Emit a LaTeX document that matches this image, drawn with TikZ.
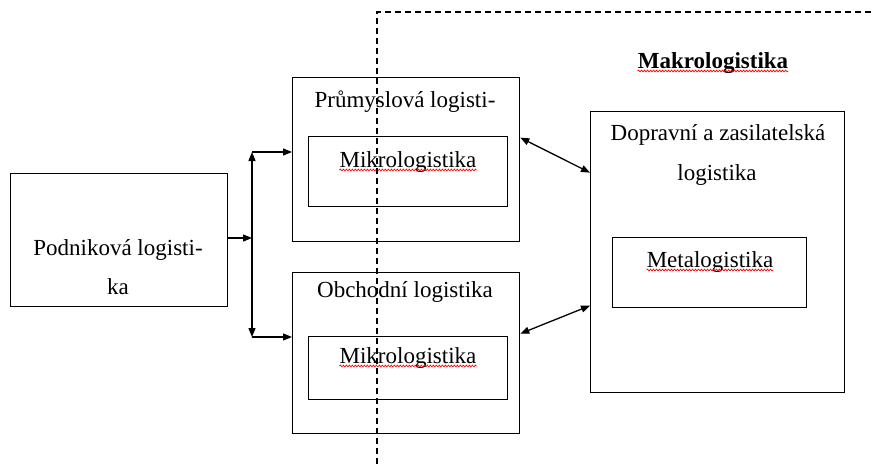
\documentclass[tikz,border=0pt]{standalone}
\usepackage{fontspec}
\setmainfont{Liberation Serif}
\usetikzlibrary{arrows.meta,decorations.pathmorphing}
\begin{document}
\begin{tikzpicture}[x=1pt,y=-1pt,
  box/.style={draw, line width=1.3pt, inner sep=0pt, anchor=north west},
  txt/.style={inner sep=0pt, anchor=base, font=\fontsize{23}{27}\selectfont},
  btxt/.style={inner sep=0pt, anchor=base, font=\fontsize{23}{27}\selectfont\bfseries},
  arr/.style={line width=1.3pt, -{Triangle[length=9pt,width=7pt]}},
  darr/.style={line width=1.3pt, {Triangle[length=9pt,width=7pt]}-{Triangle[length=9pt,width=7pt]}},
  spell/.style={red, line width=0.7pt, decorate, decoration={snake, amplitude=0.9pt, segment length=3pt}},
  boundary/.style={line width=1.2pt, dash pattern=on 6pt off 4pt}]
\useasboundingbox (0,0) rectangle (873,464);
% boxes
\node[box, minimum width=217pt, minimum height=133pt] (pl) at (10,173) {};
\node[box, minimum width=227pt, minimum height=164pt] (pk) at (292,77) {};
\node[box, minimum width=199pt, minimum height=70pt] (m1) at (308,136) {};
\node[box, minimum width=227pt, minimum height=161pt] (ob) at (292,272) {};
\node[box, minimum width=199pt, minimum height=63pt] (m2) at (308,336) {};
\node[box, minimum width=254pt, minimum height=281pt] (dz) at (590,111) {};
\node[box, minimum width=194pt, minimum height=70pt] (me) at (612,237) {};
% texts
\node[txt] (tpl1) at (118,255) {Podniková logisti-};
\node[txt] (tpl2) at (118,294) {ka};
\node[txt] (tpk) at (405,107) {Průmyslová logisti-};
\node[txt] (tm1) at (408,167) {Mikrologistika};
\node[txt] (tob) at (405,297) {Obchodní logistika};
\node[txt] (tm2) at (408,363) {Mikrologistika};
\node[txt] (tdz1) at (718,140) {Dopravní a zasilatelská};
\node[txt] (tdz2) at (717,180) {logistika};
\node[txt] (tme) at (710,267) {Metalogistika};
\node[btxt] (tmk) at (713,68) {Makrologistika};
% spell-check underlines
\draw[spell] ([yshift=-3pt]tm1.base west) -- ([yshift=-3pt]tm1.base east);
\draw[spell] ([yshift=-3pt]tm2.base west) -- ([yshift=-3pt]tm2.base east);
\draw[spell] ([yshift=-3pt]tme.base west) -- ([yshift=-3pt]tme.base east);
\draw[spell] ([yshift=-3pt]tmk.base west) -- ([yshift=-3pt]tmk.base east);
% connectors
\coordinate (j) at (252,238);
\coordinate (jt) at (252,152);
\coordinate (jb) at (252,337);
\draw[arr] (pl.east |- j) -- (j);
\draw[arr] (j) -- (jt);
\draw[arr] (j) -- (jb);
\draw[arr] (jt) -- (jt -| pk.west);
\draw[arr] (jb) -- (jb -| ob.west);
\draw[darr] ([yshift=22pt]pk.east) -- ([yshift=79.5pt]dz.west);
\draw[darr] ([yshift=19.5pt]ob.east) -- ([yshift=-53.5pt]dz.west);
% dashed boundary
\coordinate (d0) at (377,464);
\coordinate (d1) at (377,12);
\coordinate (d2) at (873,12);
\draw[boundary] (d0) -- (d1) -- (d2);
\end{tikzpicture}
\end{document}
